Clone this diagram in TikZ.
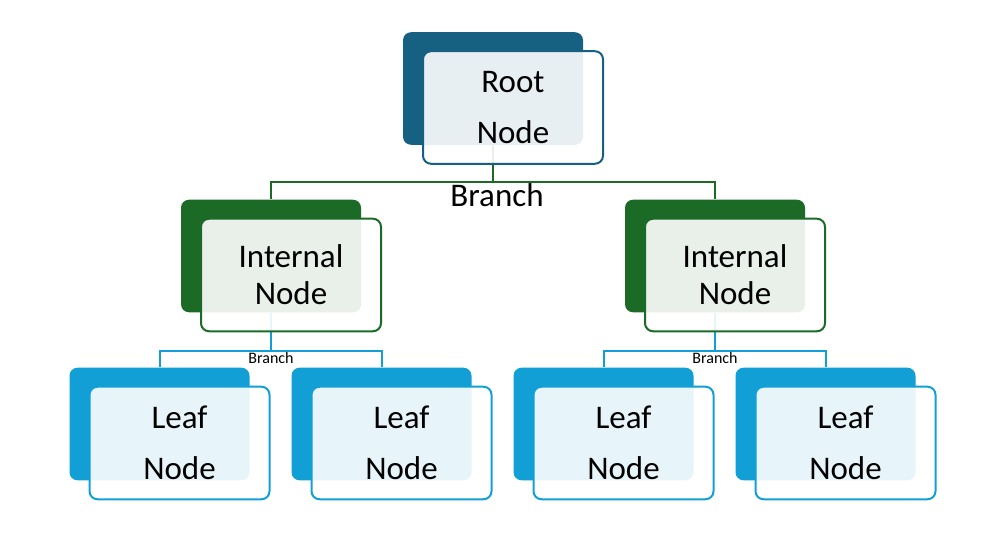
\documentclass[tikz,border=0pt]{standalone}
\usepackage{fontspec}
\setmainfont{Carlito}
\usetikzlibrary{calc, positioning}

\definecolor{rootblue}{RGB}{22,96,130}
\definecolor{innergreen}{RGB}{27,107,39}
\definecolor{leafblue}{RGB}{18,159,214}

\tikzset{
  backbox/.style={rectangle, rounded corners=6pt, fill=#1, inner sep=0pt,
    minimum width=135pt, minimum height=84.4pt},
  frontbox/.style={rectangle, rounded corners=6pt, draw=#1, line width=1.5pt,
    fill=white, fill opacity=0.9, text opacity=1, inner sep=0pt,
    minimum width=135pt, minimum height=84.4pt, align=center},
  wide/.style={font=\fontsize{24.75}{38.25}\selectfont},
  tight/.style={font=\fontsize{24.75}{27.75}\selectfont},
  branch/.style={line width=1.5pt, draw=#1},
  bigbranch/.style={font=\fontsize{24.75}{28}\selectfont, inner sep=1pt},
  smallbranch/.style={font=\fontsize{12}{14}\selectfont, inner sep=1pt},
}

\begin{document}
\begin{tikzpicture}[x=0.75pt, y=-0.75pt]
\useasboundingbox (0,0) rectangle (990,559);

% back boxes
\node[backbox=rootblue] (rootb) at (493,88.5) {};
\node[backbox=innergreen] (intlb) at (271,256) {};
\node[backbox=innergreen] (intrb) at (715,256) {};
\node[backbox=leafblue] (leafab) at (159.5,424) {};
\node[backbox=leafblue] (leafbb) at (381.5,424) {};
\node[backbox=leafblue] (leafcb) at (603.5,424) {};
\node[backbox=leafblue] (leafdb) at (825.5,424) {};

% branches
\draw[branch=innergreen] (rootb.south) -- ++(0,37) coordinate (rootj) -| (intlb.north);
\draw[branch=innergreen] (rootj) -| (intrb.north);
\draw[branch=leafblue] (intlb.south) -- ++(0,38) coordinate (intlj) -| (leafab.north);
\draw[branch=leafblue] (intlj) -| (leafbb.north);
\draw[branch=leafblue] (intrb.south) -- ++(0,38) coordinate (intrj) -| (leafcb.north);
\draw[branch=leafblue] (intrj) -| (leafdb.north);

\node[bigbranch, below=0pt of rootj, xshift=3pt] (rootlbl) {Branch};
\node[smallbranch, below=0pt of intlj] (intllbl) {Branch};
\node[smallbranch, below=0pt of intrj] (intrlbl) {Branch};

% front boxes
\node[frontbox=rootblue, wide] (rootf) at ([shift={(20,19)}]rootb.center) {Root\\Node};
\node[frontbox=innergreen, tight] (intlf) at ([shift={(20,19)}]intlb.center) {Internal\\Node};
\node[frontbox=innergreen, tight] (intrf) at ([shift={(20,19)}]intrb.center) {Internal\\Node};
\node[frontbox=leafblue, wide] (leafaf) at ([shift={(20,19)}]leafab.center) {Leaf\\Node};
\node[frontbox=leafblue, wide] (leafbf) at ([shift={(20,19)}]leafbb.center) {Leaf\\Node};
\node[frontbox=leafblue, wide] (leafcf) at ([shift={(20,19)}]leafcb.center) {Leaf\\Node};
\node[frontbox=leafblue, wide] (leafdf) at ([shift={(20,19)}]leafdb.center) {Leaf\\Node};

\end{tikzpicture}
\end{document}
